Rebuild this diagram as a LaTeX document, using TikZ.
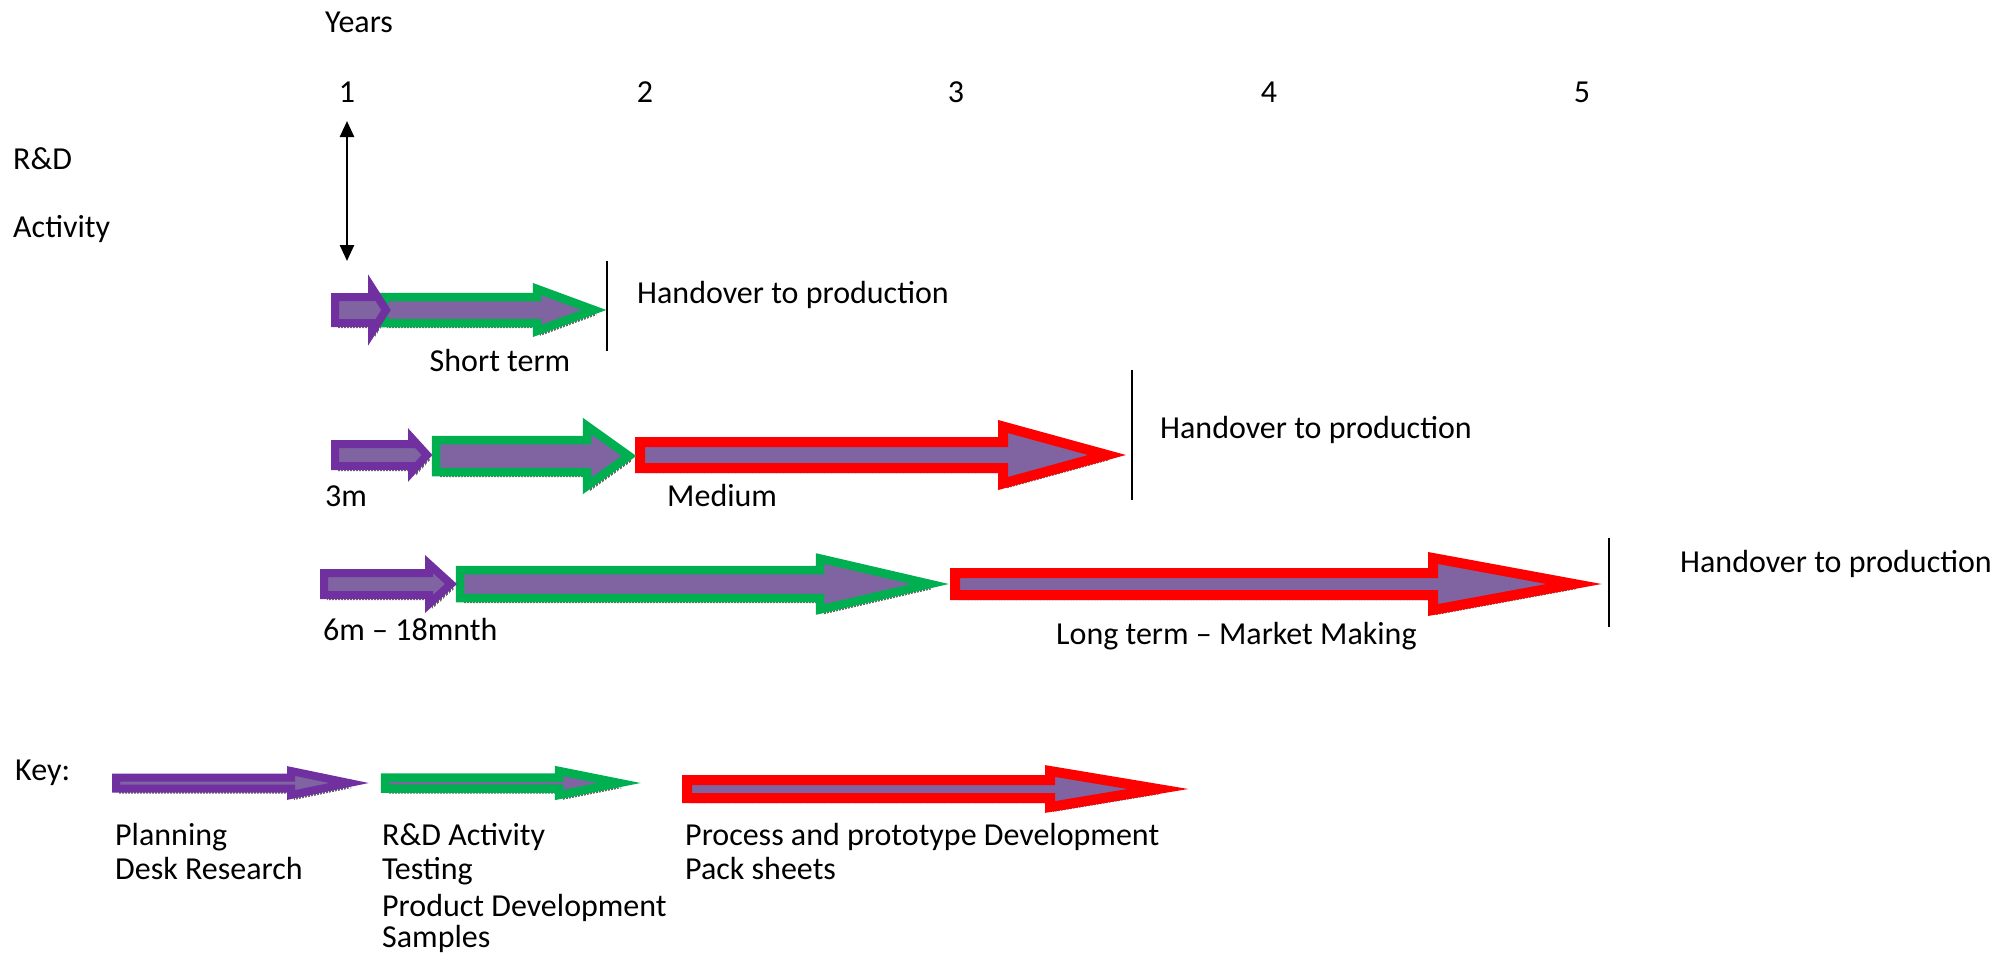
\documentclass[tikz,border=0pt]{standalone}
\usepackage{fontspec}
\setmainfont{Carlito}
\usetikzlibrary{arrows.meta,patterns.meta}
\definecolor{pOut}{HTML}{7030A0}
\definecolor{pFill}{HTML}{8064A2}
\definecolor{gOut}{HTML}{00B050}
\definecolor{rOut}{HTML}{FF0000}
% block arrow outline: x0, x-head, x-tip, y, shaft half height, head half height
\newcommand\arrowpath[6]{(#1,#4-#5) -- (#2,#4-#5) -- (#2,#4-#6) -- (#3,#4) -- (#2,#4+#6) -- (#2,#4+#5) -- (#1,#4+#5) -- cycle}
\tikzset{
  lbl/.style={font=\fontsize{32}{34}\selectfont, inner sep=0pt, anchor=mid west},
  num/.style={font=\fontsize{32}{34}\selectfont, inner sep=0pt, anchor=mid},
  shadowsty/.style={pattern={Lines[angle=90,distance=3pt,line width=1.2pt]}, pattern color=black!60, shift={(3,5)}},
  purplearr/.style={draw=pOut, fill=pFill, line width=8pt, line join=miter},
  greenarr/.style={draw=gOut, fill=pFill, line width=8.5pt, line join=miter},
  redarr/.style={draw=rOut, fill=pFill, line width=10pt, line join=miter},
  handline/.style={draw=black, line width=2pt},
  dblarr/.style={draw=black, line width=2.5pt, {Triangle[length=16pt,width=14pt]}-{Triangle[length=16pt,width=14pt]}}
}
\begin{document}
\begin{tikzpicture}[x=1pt,y=-1pt]
\useasboundingbox (0,0) rectangle (1999,953);
% axis labels
\node[lbl] (years) at (325,30) {Years};
\node[num] (n1) at (347,100) {1};
\node[num] (n2) at (645,100) {2};
\node[num] (n3) at (956,100) {3};
\node[num] (n4) at (1269,100) {4};
\node[num] (n5) at (1582,100) {5};
\node[lbl] (rd) at (13,167) {R\&D};
\node[lbl] (act) at (13,235) {Activity};
\coordinate (da1) at (347,121);
\coordinate (da2) at (347,261);
\draw[dblarr] (da1) -- (da2);
% shadows
\path[shadowsty] \arrowpath{384}{537}{594}{310}{13}{21};
\path[shadowsty] \arrowpath{335}{372}{386}{310}{13}{22};
\path[shadowsty] \arrowpath{640}{1003}{1107}{455}{13}{28.5};
\path[shadowsty] \arrowpath{436}{587}{629}{456}{16}{30};
\path[shadowsty] \arrowpath{335}{412}{427}{455}{11}{16.5};
\path[shadowsty] \arrowpath{955}{1433}{1574}{584}{11}{26};
\path[shadowsty] \arrowpath{460}{820}{930}{584}{14}{25.5};
\path[shadowsty] \arrowpath{324}{429}{451}{584}{11}{20};
\path[shadowsty] \arrowpath{116}{291}{349}{783}{5.5}{12};
\path[shadowsty] \arrowpath{385}{559}{619}{783}{5.5}{12};
\path[shadowsty] \arrowpath{687}{1050}{1158}{789}{9}{18};
% row 1: short term
\path[greenarr] \arrowpath{384}{537}{594}{310}{13}{21};
\path[purplearr] \arrowpath{335}{372}{386}{310}{13}{22};
\coordinate (h1a) at (607,261);
\coordinate (h1b) at (607,351);
\draw[handline] (h1a) -- (h1b);
\node[lbl] (ho1) at (637,301) {Handover to production};
\node[num] (short) at (500,369) {Short term};
% row 2: medium
\path[redarr] \arrowpath{640}{1003}{1107}{455}{13}{28.5};
\path[greenarr] \arrowpath{436}{587}{629}{456}{16}{30};
\path[purplearr] \arrowpath{335}{412}{427}{455}{11}{16.5};
\coordinate (h2a) at (1132,370);
\coordinate (h2b) at (1132,500);
\draw[handline] (h2a) -- (h2b);
\node[lbl] (ho2) at (1160,436) {Handover to production};
\node[lbl] (m3) at (325,504) {3m};
\node[lbl] (medium) at (667,504) {Medium};
% row 3: long term
\path[redarr] \arrowpath{955}{1433}{1574}{584}{11}{26};
\path[greenarr] \arrowpath{460}{820}{930}{584}{14}{25.5};
\path[purplearr] \arrowpath{324}{429}{451}{584}{11}{20};
\coordinate (h3a) at (1609,538);
\coordinate (h3b) at (1609,627);
\draw[handline] (h3a) -- (h3b);
\node[lbl] (ho3) at (1680,570) {Handover to production};
\node[lbl] (m6) at (323,638) {6m – 18mnth};
\node[lbl] (long) at (1056,642) {Long term – Market Making};
% key
\node[lbl] (key) at (15,778) {Key:};
\path[purplearr] \arrowpath{116}{291}{349}{783}{5.5}{12};
\path[greenarr] \arrowpath{385}{559}{619}{783}{5.5}{12};
\path[redarr] \arrowpath{687}{1050}{1158}{789}{9}{18};
\node[lbl] (k1a) at (115,843) {Planning};
\node[lbl] (k1b) at (115,877) {Desk Research};
\node[lbl] (k2a) at (382,843) {R\&D Activity};
\node[lbl] (k2b) at (382,877) {Testing};
\node[lbl] (k2c) at (382,914) {Product Development};
\node[lbl] (k2d) at (382,945) {Samples};
\node[lbl] (k3a) at (685,843) {Process and prototype Development};
\node[lbl] (k3b) at (685,877) {Pack sheets};
\end{tikzpicture}
\end{document}
